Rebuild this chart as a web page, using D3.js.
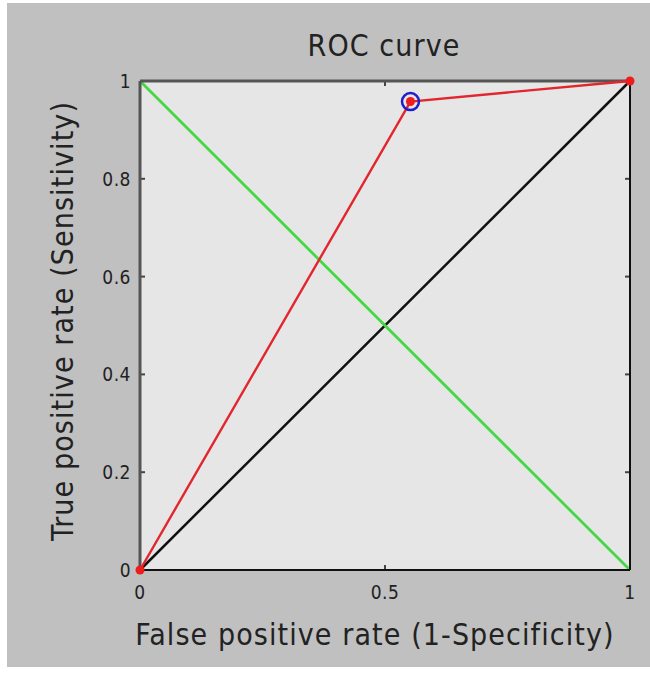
<!DOCTYPE html>
<html>
<head>
<meta charset="utf-8">
<script src="https://cdn.jsdelivr.net/npm/d3@7"></script>
<style>
  html, body { margin: 0; padding: 0; background: #ffffff; }
  svg { display: block; }
  text { font-family: "DejaVu Sans Condensed", "Liberation Sans Narrow", "DejaVu Sans", sans-serif; fill: #222; }
</style>
</head>
<body>
<svg id="chart" width="650" height="673"></svg>
<script>
// ROC curve points (false positive rate, true positive rate)
const rocFpr = [0, 0.552, 1];
const rocTpr = [0, 0.958, 1];
// operating point highlighted with a circle
const chosenFpr = [0.552];
const chosenTpr = [0.958];
// reference diagonals
const chanceLine = [[0, 0], [1, 1]];
const crossLine = [[0, 1], [1, 0]];
// tick values and labels
const xTicks = [0, 0.5, 1];
const xTickLabels = ["0", "0.5", "1"];
const yTicks = [0, 0.2, 0.4, 0.6, 0.8, 1];
const yTickLabels = ["0", "0.2", "0.4", "0.6", "0.8", "1"];
const titleText = "ROC curve";
const xTitle = "False positive rate (1-Specificity)";
const yTitle = "True positive rate (Sensitivity)";

const svg = d3.select("#chart");
const W = 650, H = 673;

// figure background
svg.append("rect").attr("x", 7).attr("y", 3).attr("width", W - 7).attr("height", 664)
  .attr("fill", "#c0c0c0");

const pLeft = 140, pRight = 630, pTop = 81, pBottom = 570;
const x = d3.scaleLinear().domain([0, 1]).range([pLeft, pRight]);
const y = d3.scaleLinear().domain([0, 1]).range([pBottom, pTop]);

// plot area
svg.append("rect").attr("x", pLeft).attr("y", pTop)
  .attr("width", pRight - pLeft).attr("height", pBottom - pTop)
  .attr("fill", "#e6e6e6");

// inward ticks on all four sides
const tickLen = 5;
const g = svg.append("g");
xTicks.forEach(t => {
  g.append("line").attr("x1", x(t)).attr("x2", x(t)).attr("y1", pBottom).attr("y2", pBottom - tickLen)
    .attr("stroke", "#444").attr("stroke-width", 2);
  g.append("line").attr("x1", x(t)).attr("x2", x(t)).attr("y1", pTop).attr("y2", pTop + tickLen)
    .attr("stroke", "#444").attr("stroke-width", 2);
});
yTicks.forEach(t => {
  g.append("line").attr("x1", pLeft).attr("x2", pLeft + tickLen).attr("y1", y(t)).attr("y2", y(t))
    .attr("stroke", "#444").attr("stroke-width", 2);
  g.append("line").attr("x1", pRight).attr("x2", pRight - tickLen).attr("y1", y(t)).attr("y2", y(t))
    .attr("stroke", "#444").attr("stroke-width", 2);
});

const line = d3.line().x(d => x(d[0])).y(d => y(d[1]));

// diagonals
svg.append("path").datum(chanceLine).attr("d", line)
  .attr("fill", "none").attr("stroke", "#111").attr("stroke-width", 2.5);
svg.append("path").datum(crossLine).attr("d", line)
  .attr("fill", "none").attr("stroke", "#44d844").attr("stroke-width", 2.8);

// box: top/left grey, bottom/right black
svg.append("line").attr("x1", pLeft).attr("x2", pRight).attr("y1", pTop).attr("y2", pTop)
  .attr("stroke", "#555").attr("stroke-width", 3);
svg.append("line").attr("x1", pLeft).attr("x2", pLeft).attr("y1", pTop).attr("y2", pBottom)
  .attr("stroke", "#555").attr("stroke-width", 3);
svg.append("line").attr("x1", pLeft).attr("x2", pRight).attr("y1", pBottom).attr("y2", pBottom)
  .attr("stroke", "#111").attr("stroke-width", 2);
svg.append("line").attr("x1", pRight).attr("x2", pRight).attr("y1", pTop).attr("y2", pBottom)
  .attr("stroke", "#111").attr("stroke-width", 2);

// ROC curve
const rocPts = rocFpr.map((f, i) => [f, rocTpr[i]]);
svg.append("path").datum(rocPts).attr("d", line)
  .attr("fill", "none").attr("stroke", "#e3262e").attr("stroke-width", 2.4);
svg.selectAll("circle.roc").data(rocPts).enter().append("circle")
  .attr("class", "roc").attr("cx", d => x(d[0])).attr("cy", d => y(d[1])).attr("r", 4.5)
  .attr("fill", "#ee1c1c");

// highlighted operating point
svg.selectAll("circle.sel").data(chosenFpr.map((f, i) => [f, chosenTpr[i]])).enter().append("circle")
  .attr("class", "sel").attr("cx", d => x(d[0])).attr("cy", d => y(d[1])).attr("r", 8.5)
  .attr("fill", "none").attr("stroke", "#1f1fc8").attr("stroke-width", 2.5);

// tick labels
xTicks.forEach((t, i) => {
  svg.append("text").attr("x", x(t)).attr("y", pBottom + 29).attr("text-anchor", "middle")
    .attr("font-size", 19).attr("letter-spacing", 0.5).text(xTickLabels[i]);
});
yTicks.forEach((t, i) => {
  svg.append("text").attr("x", pLeft - 9).attr("y", y(t) + 7).attr("text-anchor", "end")
    .attr("font-size", 19).attr("letter-spacing", 0.5).text(yTickLabels[i]);
});

// titles
svg.append("text").attr("x", 384).attr("y", 56).attr("text-anchor", "middle")
  .attr("font-size", 30).attr("letter-spacing", 1.1).text(titleText);
svg.append("text").attr("x", 375).attr("y", 645).attr("text-anchor", "middle")
  .attr("font-size", 30).attr("letter-spacing", 1.1).text(xTitle);
svg.append("text").attr("transform", "translate(73,321) rotate(-90)").attr("text-anchor", "middle")
  .attr("font-size", 30).attr("letter-spacing", 1.1).text(yTitle);
</script>
</body>
</html>
